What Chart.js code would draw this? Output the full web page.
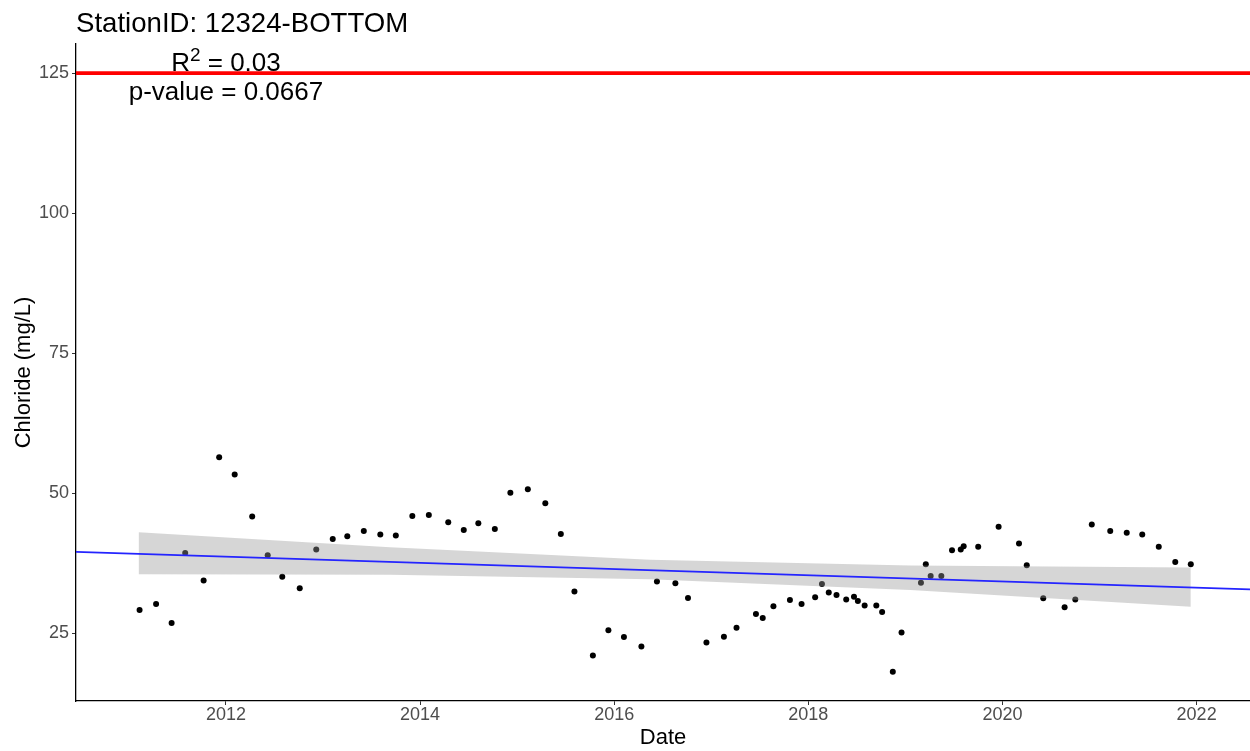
<!DOCTYPE html>
<html>
<head>
<meta charset="utf-8">
<title>StationID: 12324-BOTTOM</title>
<script src="https://cdn.jsdelivr.net/npm/chart.js@4/dist/chart.umd.min.js"></script>
<style>
	html, body { margin: 0; padding: 0; background: #fff; overflow: hidden; }
	canvas { display: block; }
</style>
</head>
<body>
<canvas id="chart" width="1250" height="751"></canvas>
<script>
'use strict';

// sample dates as decimal years, chloride in mg/L
const sampleDates = [
	2011.11, 2011.28, 2011.44, 2011.58, 2011.77, 2011.93, 2012.09, 2012.27, 2012.43, 2012.58,
	2012.76, 2012.93, 2013.10, 2013.25, 2013.42, 2013.59, 2013.75, 2013.92, 2014.09, 2014.29,
	2014.45, 2014.60, 2014.77, 2014.93, 2015.11, 2015.29, 2015.45, 2015.59, 2015.78, 2015.94,
	2016.10, 2016.28, 2016.44, 2016.63, 2016.76, 2016.95, 2017.13, 2017.26, 2017.46, 2017.53,
	2017.64, 2017.81, 2017.93, 2018.07, 2018.14, 2018.21, 2018.29, 2018.39, 2018.47, 2018.51,
	2018.58, 2018.70, 2018.76, 2018.87, 2018.96, 2019.16, 2019.21, 2019.26, 2019.37, 2019.48,
	2019.57, 2019.60, 2019.75, 2019.96, 2020.17, 2020.25, 2020.42, 2020.64, 2020.75, 2020.92,
	2021.11, 2021.28, 2021.44, 2021.61, 2021.78, 2021.94
];
const chloride = [
	29.1, 30.2, 26.8, 39.3, 34.4, 56.4, 53.3, 45.8, 38.9, 35.05,
	33.0, 39.9, 41.8, 42.3, 43.2, 42.6, 42.4, 45.9, 46.1, 44.8,
	43.4, 44.6, 43.6, 50.05, 50.7, 48.2, 42.7, 32.4, 21.0, 25.5,
	24.3, 22.6, 34.2, 33.9, 31.25, 23.3, 24.35, 25.95, 28.4, 27.7,
	29.8, 30.9, 30.2, 31.4, 33.75, 32.25, 31.8, 31.0, 31.5, 30.7,
	29.9, 29.9, 28.75, 18.1, 25.1, 34.0, 37.3, 35.2, 35.2, 39.8,
	39.9, 40.5, 40.4, 44.0, 41.0, 37.1, 31.2, 29.6, 31.0, 44.4,
	43.2, 42.9, 42.6, 40.4, 37.7, 37.3
];

// linear fit, drawn over the full x range
const fitDates = [2010.455, 2022.55];
const fitValues = [39.5, 32.8];

// confidence band of the fit
const bandDates = [2011.10, 2013.69, 2016.37, 2019.05, 2021.94];
const bandLower = [35.5, 35.4, 34.6, 32.7, 29.7];
const bandUpper = [43.0, 40.3, 38.1, 37.05, 36.7];

const limitValue = 125;

const xRange = [2010.455, 2022.55];
const yRange = [12.86, 130.2];
const xTicks = [2012, 2014, 2016, 2018, 2020, 2022];
const yTicks = [25, 50, 75, 100, 125];

const chartTitle = 'StationID: 12324-BOTTOM';
const rSquaredText = '0.03';
const pValueText = '0.0667';

const fontFamily = '"Liberation Sans", Arial, Helvetica, sans-serif';

const toPoints = (xs, ys) => xs.map((x, i) => ({x: x, y: ys[i]}));

const textPlugin = {
	id: 'plotText',
	afterDraw: (chart) => {
		const ctx = chart.ctx;
		const xScale = chart.scales.x;
		ctx.save();
		ctx.fillStyle = '#000';
		ctx.textBaseline = 'alphabetic';

		ctx.font = '27.6px ' + fontFamily;
		ctx.textAlign = 'left';
		ctx.fillText(chartTitle, 76, 31.5);

		const centerX = xScale.getPixelForValue(2012);

		// R² line, with a small raised 2
		const big = '26px ' + fontFamily;
		const small = '19px ' + fontFamily;
		ctx.font = big;
		const wR = ctx.measureText('R').width;
		const rest = ' = ' + rSquaredText;
		const wRest = ctx.measureText(rest).width;
		ctx.font = small;
		const wSup = ctx.measureText('2').width;
		let x = centerX - (wR + wSup + wRest) / 2;
		ctx.font = big;
		ctx.fillText('R', x, 70.5);
		x += wR;
		ctx.font = small;
		ctx.fillText('2', x, 60.5);
		x += wSup;
		ctx.font = big;
		ctx.fillText(rest, x, 70.5);

		ctx.textAlign = 'center';
		ctx.fillText('p-value = ' + pValueText, centerX, 100);
		ctx.restore();
	}
};

window.onload = function() {
	const canvas = document.getElementById('chart');

	new Chart(canvas, {
		type: 'scatter',
		data: {
			datasets: [
				{
					label: 'limit',
					type: 'line',
					data: toPoints(xRange, [limitValue, limitValue]),
					borderColor: '#ff0000',
					borderWidth: 3.6,
					pointRadius: 0,
					fill: false
				},
				{
					label: 'fit',
					type: 'line',
					data: toPoints(fitDates, fitValues),
					borderColor: '#2424ff',
					borderWidth: 1.8,
					pointRadius: 0,
					fill: false
				},
				{
					label: 'upper',
					type: 'line',
					data: toPoints(bandDates, bandUpper),
					borderWidth: 0,
					pointRadius: 0,
					backgroundColor: 'rgba(153,153,153,0.4)',
					fill: {target: 3}
				},
				{
					label: 'lower',
					type: 'line',
					data: toPoints(bandDates, bandLower),
					borderWidth: 0,
					pointRadius: 0,
					fill: false
				},
				{
					label: 'Chloride',
					data: toPoints(sampleDates, chloride),
					backgroundColor: '#000',
					borderWidth: 0,
					pointRadius: 3
				}
			]
		},
		options: {
			responsive: false,
			animation: false,
			events: [],
			layout: {
				autoPadding: false,
				padding: {top: 44, right: 0, left: 0, bottom: 0}
			},
			plugins: {
				legend: {display: false},
				tooltip: {enabled: false},
				title: {display: false}
			},
			scales: {
				x: {
					type: 'linear',
					min: xRange[0],
					max: xRange[1],
					afterBuildTicks: (scale) => {
						scale.ticks = xTicks.map(v => ({value: v}));
					},
					afterFit: (scale) => {
						scale.height = 50;
						scale.paddingLeft = 0;
						scale.paddingRight = 0;
					},
					border: {display: true, color: '#000', width: 1.3},
					grid: {
						drawOnChartArea: false,
						drawTicks: true,
						tickLength: 4,
						color: '#333'
					},
					ticks: {
						color: '#4d4d4d',
						padding: -1,
						font: {family: fontFamily, size: 18},
						maxRotation: 0,
						callback: (v) => String(v)
					},
					title: {
						display: true,
						text: 'Date',
						color: '#000',
						padding: {top: 0, bottom: 0},
						font: {family: fontFamily, size: 22}
					}
				},
				y: {
					type: 'linear',
					min: yRange[0],
					max: yRange[1],
					afterBuildTicks: (scale) => {
						scale.ticks = yTicks.map(v => ({value: v}));
					},
					afterFit: (scale) => {
						scale.width = 76;
					},
					border: {display: true, color: '#000', width: 1.3},
					grid: {
						drawOnChartArea: false,
						drawTicks: true,
						tickLength: 4,
						color: '#333'
					},
					ticks: {
						color: '#4d4d4d',
						padding: 3,
						font: {family: fontFamily, size: 18},
						callback: (v) => String(v)
					},
					title: {
						display: true,
						text: 'Chloride (mg/L)',
						color: '#000',
						padding: {top: 11, bottom: 0},
						font: {family: fontFamily, size: 22}
					}
				}
			}
		},
		plugins: [textPlugin]
	});
};
</script>
</body>
</html>
